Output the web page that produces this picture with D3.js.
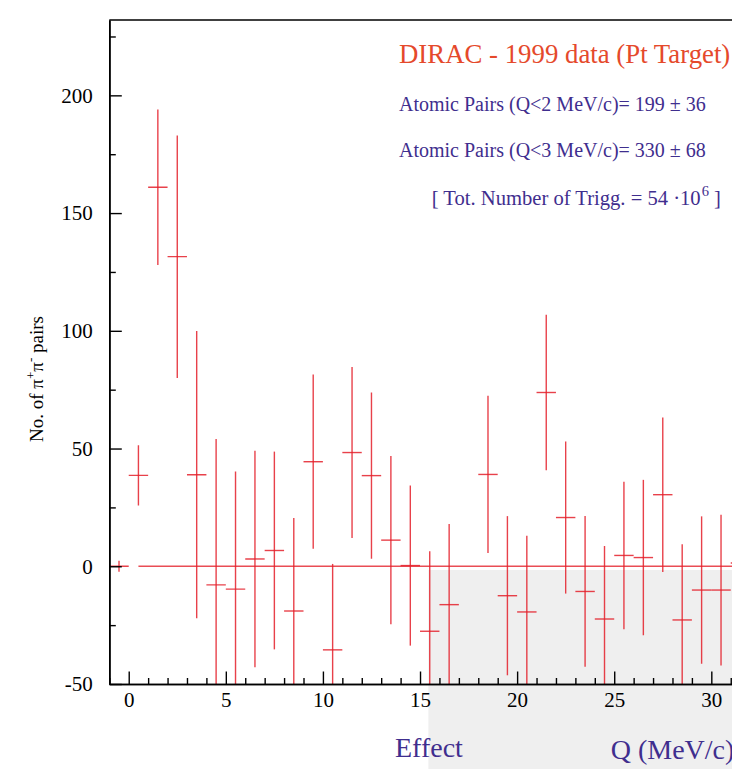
<!DOCTYPE html>
<html>
<head>
<meta charset="utf-8">
<script src="https://cdn.jsdelivr.net/npm/d3@7"></script>
<style>
  html, body { margin: 0; padding: 0; background: #fff; }
  svg { display: block; }
  text { font-family: "Liberation Serif", "DejaVu Serif", serif; }
</style>
</head>
<body>
<div id="chart"></div>
<script>
// ---- Data ----
const binCenters = [-0.5, 0.5, 1.5, 2.5, 3.5, 4.5, 5.5, 6.5, 7.5, 8.5, 9.5, 10.5, 11.5, 12.5, 13.5, 14.5, 15.5, 16.5, 18.5, 19.5, 20.5, 21.5, 22.5, 23.5, 24.5, 25.5, 26.5, 27.5, 28.5, 29.5, 30.5, 31.5];
const pairCounts = [0, 38.6, 161, 131.5, 38.9, -7.9, -9.7, 3.1, 6.7, -19.0, 44.4, -35.5, 48.3, 38.5, 11.1, 0.3, -27.6, -16.3, 39.0, -12.5, -19.4, 73.8, 20.7, -10.7, -22.4, 4.6, 3.7, 30.4, -22.8, -10.1, -10.1, 1.4];
const pairErrors = [2.3, 12.8, 33, 51.5, 61, 62, 50, 46, 42, 39.5, 37, 36.5, 36.3, 35.3, 35.7, 34, 34, 34.3, 33.4, 33.8, 32.4, 33, 32.3, 32, 31, 31.3, 33, 32.8, 32.2, 31.3, 32, 32];
const binHalfWidth = 0.5;

const zeroLineRange = [0.5, 32];
const effectRegionStart = 15.43;

const xMajorTicks = [0, 5, 10, 15, 20, 25, 30];
const xMinorTicks = d3.range(-1, 32, 1).filter(d => d % 5 !== 0);
const yMajorTicks = [-50, 0, 50, 100, 150, 200];
const yMinorTicks = [-25, 25, 75, 125, 175, 225];

const titleText = "DIRAC - 1999 data (Pt Target)";
const infoLines = ["Atomic Pairs (Q<2 MeV/c)= 199 \u00B1 36", "Atomic Pairs (Q<3 MeV/c)= 330 \u00B1 68"];

// ---- Layout ----
const W = 732, H = 769;
const plot = { left: 109.3, top: 20, bottom: 684 };
const pxPerUnitX = 19.42;

const x = d3.scaleLinear().domain([-1, 32]).range([plot.left, plot.left + 33 * pxPerUnitX]);
const y = d3.scaleLinear().domain([-50, 232]).range([plot.bottom, plot.top]);

const svg = d3.select("#chart").append("svg").attr("width", W).attr("height", H);

// Effect shaded region
svg.append("rect")
  .attr("x", x(effectRegionStart))
  .attr("y", y(-1.6))
  .attr("width", W - x(effectRegionStart) + 5)
  .attr("height", H - y(-1.6) + 5)
  .attr("fill", "#efefef");

// clip for data
svg.append("clipPath").attr("id", "plotclip")
  .append("rect")
  .attr("x", plot.left).attr("y", plot.top)
  .attr("width", x(32) - plot.left).attr("height", plot.bottom - plot.top);

const dataG = svg.append("g").attr("clip-path", "url(#plotclip)");
const red = "#e4202a";

// zero reference line
dataG.append("line")
  .attr("x1", x(zeroLineRange[0])).attr("x2", x(zeroLineRange[1]))
  .attr("y1", y(0)).attr("y2", y(0))
  .attr("stroke", red).attr("stroke-width", 1.3).attr("stroke-opacity", 0.8);

const pts = binCenters.map((c, i) => ({ c, v: pairCounts[i], e: pairErrors[i] }));
const pg = dataG.selectAll("g.pt").data(pts).join("g").attr("class", "pt");
pg.append("line")
  .attr("x1", d => x(d.c - binHalfWidth)).attr("x2", d => x(d.c + binHalfWidth))
  .attr("y1", d => y(d.v)).attr("y2", d => y(d.v))
  .attr("stroke", red).attr("stroke-width", 1.4).attr("stroke-opacity", 0.85);
pg.append("line")
  .attr("x1", d => x(d.c)).attr("x2", d => x(d.c))
  .attr("y1", d => y(d.v + d.e)).attr("y2", d => y(d.v - d.e))
  .attr("stroke", red).attr("stroke-width", 1.4).attr("stroke-opacity", 0.85);

// ---- Axes ----
const axisColor = "#000";
const fmt = d => String(d);
function styleAxis(g) {
  g.selectAll("path.domain").attr("stroke", axisColor).attr("stroke-width", 1.6);
  g.selectAll(".tick line").attr("stroke", axisColor).attr("stroke-width", 1.4);
  g.selectAll("text").attr("fill", "#000").attr("font-size", 21)
    .attr("font-family", "Liberation Serif, DejaVu Serif, serif");
}

// top frame
svg.append("line")
  .attr("x1", plot.left).attr("x2", x(32))
  .attr("y1", plot.top).attr("y2", plot.top)
  .attr("stroke", axisColor).attr("stroke-width", 1.4);

const yAxisMinor = svg.append("g").attr("transform", `translate(${plot.left},0)`)
  .call(d3.axisLeft(y).tickValues(yMinorTicks).tickSizeInner(-6.5).tickSizeOuter(0).tickFormat(""));
styleAxis(yAxisMinor);
const yAxis = svg.append("g").attr("transform", `translate(${plot.left},0)`)
  .call(d3.axisLeft(y).tickValues(yMajorTicks).tickSizeInner(-12.5).tickSizeOuter(0).tickPadding(16.5).tickFormat(fmt));
styleAxis(yAxis);

const xAxisMinor = svg.append("g").attr("transform", `translate(0,${plot.bottom})`)
  .call(d3.axisBottom(x).tickValues(xMinorTicks).tickSizeInner(-6).tickSizeOuter(0).tickFormat(""));
styleAxis(xAxisMinor);
const xAxis = svg.append("g").attr("transform", `translate(0,${plot.bottom})`)
  .call(d3.axisBottom(x).tickValues(xMajorTicks).tickSizeInner(-12.5).tickSizeOuter(0).tickPadding(8).tickFormat(fmt));
styleAxis(xAxis);

// ---- Texts ----
const purple = "#3f2e8e";
svg.append("text").attr("x", 399).attr("y", 62.7)
  .attr("font-size", 26.8).attr("fill", "#e5492b").text(titleText);

infoLines.forEach((t, i) => {
  svg.append("text").attr("x", 399).attr("y", [110.7, 157.3][i])
    .attr("font-size", 20).attr("fill", purple).text(t);
});

const trig = svg.append("text").attr("x", 431.7).attr("y", 205)
  .attr("font-size", 20.6).attr("fill", purple);
trig.append("tspan").text("[ Tot. Number of Trigg. = 54 \u00B710");
trig.append("tspan").attr("dy", -9).attr("font-size", 14.5).attr("dx", 1).text("6");
trig.append("tspan").attr("dy", 9).text("  ]");

// y-axis label
const yl = svg.append("text")
  .attr("transform", "translate(43,379) rotate(-90)")
  .attr("text-anchor", "middle").attr("font-size", 19).attr("fill", "#000");
yl.append("tspan").text("No. of \u03C0");
yl.append("tspan").attr("dy", -8).attr("font-size", 13).text("+");
yl.append("tspan").attr("dy", 8).text("\u03C0");
yl.append("tspan").attr("dy", -8).attr("font-size", 13).text("-");
yl.append("tspan").attr("dy", 8).text(" pairs");

svg.append("text").attr("x", 395).attr("y", 757.3)
  .attr("font-size", 28).attr("fill", purple).text("Effect");
svg.append("text").attr("x", 610.7).attr("y", 759)
  .attr("font-size", 28).attr("fill", purple).text("Q (MeV/c)");
</script>
</body>
</html>
